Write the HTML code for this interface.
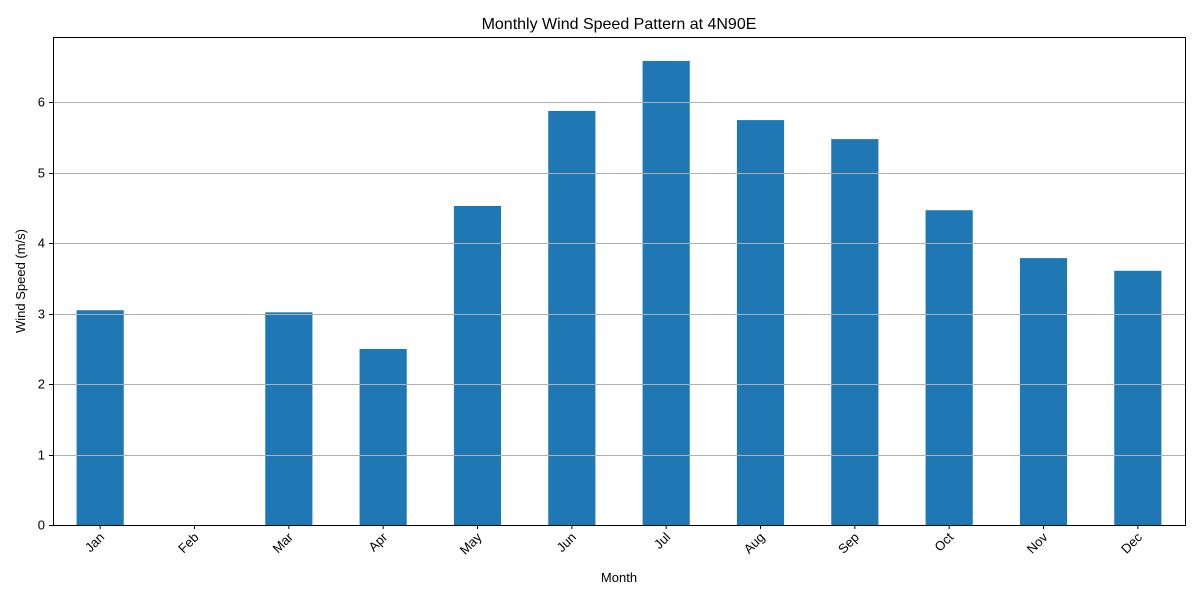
<!DOCTYPE html>
<html><head><meta charset="utf-8"><style>
body{margin:0;background:#fff;}
svg{display:block;font-family:"Liberation Sans","DejaVu Sans",sans-serif;}
</style></head><body>
<svg id="chart" width="1200" height="600">
<text x="619" y="29" font-size="16" text-anchor="middle">Monthly Wind Speed Pattern at 4N90E</text>
<g id="bars"></g>
<g id="grid"></g>
<rect x="53.5" y="37.5" width="1132" height="488" fill="none" stroke="#000" stroke-width="1"/>
<g id="yaxis"></g>
<g id="xaxis"></g>
<text x="619" y="582" font-size="13" text-anchor="middle">Month</text>
<text transform="translate(25,281) rotate(-90)" font-size="13" text-anchor="middle">Wind Speed (m/s)</text>
</svg>
<script>
const months=["Jan","Feb","Mar","Apr","May","Jun","Jul","Aug","Sep","Oct","Nov","Dec"];
const speeds=[3.05,null,3.02,2.50,4.53,5.88,6.59,5.75,5.48,4.47,3.79,3.61];
const yTicks=[0,1,2,3,4,5,6];
const X0=53,X1=1185,Y0=525,Y1=37,YMAX=6.93;
const NS="http://www.w3.org/2000/svg";
const band=(X1-X0)/months.length;
const xs=i=>X0+band*(i+0.5);
const ys=v=>Y0-(v/YMAX)*(Y0-Y1);
function mk(t,a,p){const e=document.createElementNS(NS,t);for(const k in a)e.setAttribute(k,a[k]);p.appendChild(e);return e;}
const grid=document.getElementById('grid'),bars=document.getElementById('bars'),ya=document.getElementById('yaxis'),xa=document.getElementById('xaxis');
yTicks.forEach(v=>{
 const y=Math.round(ys(v))+0.5;
 const g=mk('line',{x1:X0,x2:X1,y1:y,y2:y,stroke:'#b0b0b0','stroke-width':1},grid);
 
 
 const t=mk('line',{x1:X0-4,x2:X0,y1:y,y2:y,stroke:'#000'},ya);
 
 
 const l=mk('text',{x:X0-8,y:y+4,'font-size':13,'text-anchor':'end'},ya);
 l.textContent=v;
 
 
});
months.forEach((m,i)=>{
 const cx=xs(i);
 const v=speeds[i];
 if(v!=null){
  const r=mk('rect',{x:cx-band*0.25,y:ys(v),width:band*0.5,height:Y0-ys(v),fill:'#1f77b4'},bars);
  
  
 }
 const t=mk('line',{x1:cx,x2:cx,y1:Y0,y2:Y0+4,stroke:'#000'},xa);
 
 
 const l=mk('text',{x:0,y:0,'font-size':13,'text-anchor':'end',transform:`translate(${cx+5},${Y0+13}) rotate(-45)`},xa);
 l.textContent=m;
 
 
});
</script>
</body></html>
